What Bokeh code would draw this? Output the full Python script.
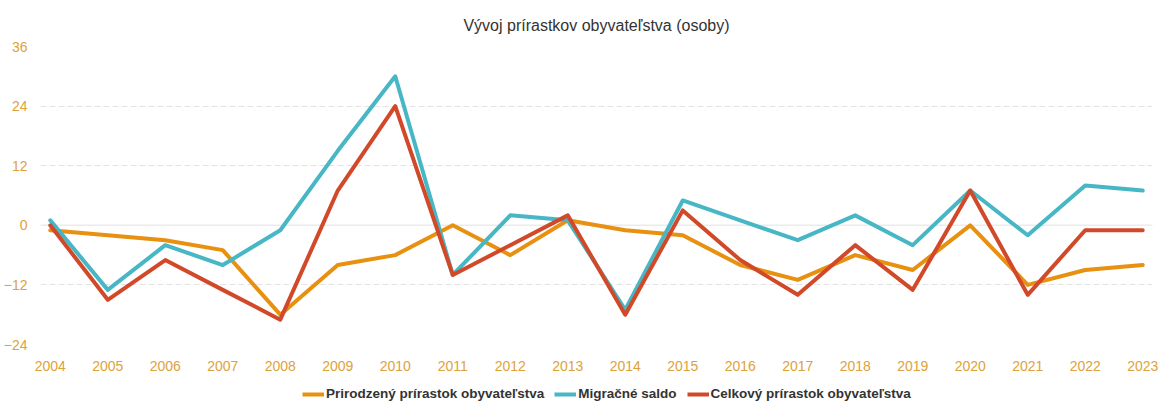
from bokeh.plotting import figure
from bokeh.layouts import column
from bokeh.models import Legend, LegendItem, FixedTicker, Span, Range1d
from bokeh.embed import file_html
from bokeh.resources import INLINE

years = list(range(2004, 2024))
natural = [-1, -2, -3, -5, -18, -8, -6, 0, -6, 1, -1, -2, -8, -11, -6, -9, 0, -12, -9, -8]
migration = [1, -13, -4, -8, -1, 15, 30, -10, 2, 1, -17, 5, 1, -3, 2, -4, 7, -2, 8, 7]
total = [0, -15, -7, -13, -19, 7, 24, -10, -4, 2, -18, 3, -7, -14, -4, -13, 7, -14, -1, -1]
y_ticks = [-24, -12, 0, 12, 24, 36]
names = ["Prirodzený prírastok obyvateľstva", "Migračné saldo", "Celkový prírastok obyvateľstva"]
colors = ["#E8900F", "#47B6C5", "#D2492A"]

FONT = "Liberation Sans"
TICK_COLOR = "#DDA23A"

p = figure(width=1160, height=373, output_backend="svg", toolbar_location=None,
           x_range=Range1d(2003.83, 2023.17), y_range=Range1d(-24, 36),
           min_border_left=32, min_border_right=8, min_border_top=46, min_border_bottom=27)
p.outline_line_color = None

p.title.text = "Vývoj prírastkov obyvateľstva (osoby)"
p.title.align = "center"
p.title.text_font = FONT
p.title.text_font_size = "16px"
p.title.text_font_style = "normal"
p.title.text_color = "#333333"
p.title.standoff = 25

p.xgrid.grid_line_color = None
p.ygrid.grid_line_color = "#e3e3e3"
p.ygrid.grid_line_dash = "6 3"
p.ygrid.grid_line_width = 1

zero = Span(location=0, dimension="width", line_color="#ebebeb", line_width=1.5, level="underlay")
p.add_layout(zero)

p.xaxis.ticker = FixedTicker(ticks=years)
p.yaxis.ticker = FixedTicker(ticks=y_ticks)
for ax in (p.xaxis[0], p.yaxis[0]):
    ax.axis_line_color = None
    ax.major_tick_line_color = None
    ax.minor_tick_line_color = None
    ax.major_label_text_font = FONT
    ax.major_label_text_font_size = "14px"
    ax.major_label_text_color = TICK_COLOR
p.xaxis.major_label_standoff = 10
p.yaxis.major_label_standoff = 7

for series, c in zip([natural, migration, total], colors):
    p.line(years, series, line_color=c, line_width=4, line_join="round", line_cap="round")

# legend strip below the chart (dummy lines lie outside its visible range)
lf = figure(width=1160, height=28, output_backend="svg", toolbar_location=None,
            x_range=Range1d(0, 1), y_range=Range1d(0, 1),
            min_border=0)
lf.outline_line_color = None
lf.axis.visible = False
lf.grid.visible = False
leg_renderers = [lf.line([5, 6], [5, 6], line_color=c, line_width=4) for c in colors]

legend = Legend(items=[LegendItem(label=n, renderers=[r]) for n, r in zip(names, leg_renderers)],
                orientation="horizontal", location=(262, 0),
                label_text_font=FONT, label_text_font_size="13.5px", label_text_font_style="bold",
                label_text_color="#333333", glyph_width=22, glyph_height=10,
                label_standoff=2, spacing=10, padding=1, margin=0,
                border_line_color=None, background_fill_alpha=0)
lf.add_layout(legend, "center")

layout = column(p, lf, spacing=0)
open("out.html", "w").write(file_html(layout, INLINE))
